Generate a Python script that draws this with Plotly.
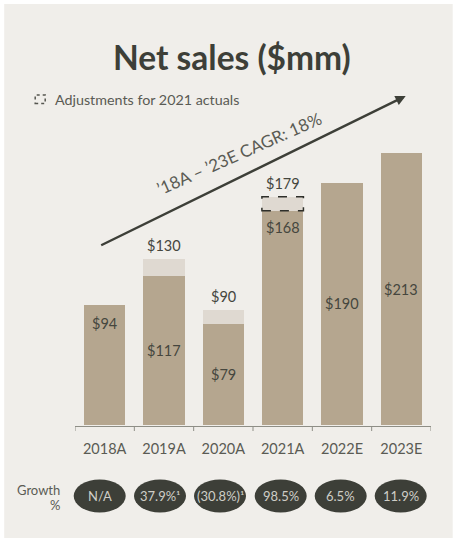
import plotly.graph_objects as go

categories = ["2018A", "2019A", "2020A", "2021A", "2022E", "2023E"]
base_sales = [94, 117, 79, 168, 190, 213]
adjustments = [0, 13, 11, 11, 0, 0]
adjusted_labels = [None, "$130", "$90", "$179", None, None]
growth_labels = ["N/A", "37.9%\u00b9", "(30.8%)\u00b9", "98.5%", "6.5%", "11.9%"]
title_text = "Net sales ($mm)"
legend_text = "Adjustments for 2021 actuals"
cagr_text = "\u201918A \u2013 \u201923E CAGR: 18%"

W, H = 453, 539
L, R, T, B = 75.3, 21.7, 40, 114
FONT = "Lato"
BAR, LIGHT, PANEL, DARK, TEXT = "#B5A68F", "#DFD9D1", "#F0EEEA", "#3D3F38", "#5A5B54"

def px(x): return (x - L) / (W - L - R)
def py(y): return (H - B - y) / (H - T - B)

x_idx = list(range(len(categories)))
fig = go.Figure()
fig.add_bar(x=x_idx, y=base_sales, marker=dict(color=BAR, line_width=0), width=0.7)
fig.add_bar(x=x_idx, y=adjustments, marker=dict(color=LIGHT, line_width=0), width=0.7)

shapes = [dict(type="rect", xref="paper", yref="paper", layer="below", x0=px(4.5), x1=px(453),
               y0=py(538), y1=py(4), fillcolor=PANEL, line_width=0)]
# dashed box around 2021 adjustment
shapes.append(dict(type="rect", xref="x", yref="y", x0=2.65, x1=3.35, y0=base_sales[3],
                   y1=base_sales[3] + adjustments[3], fillcolor="rgba(0,0,0,0)",
                   line=dict(color="#2E2F2A", width=1.5, dash="dash")))
# growth ellipses
growth_x = [100, 160.3, 220.3, 281, 341, 401]
anns = []
for cx, g in zip(growth_x, growth_labels):
    shapes.append(dict(type="circle", xref="paper", yref="paper", x0=px(cx - 26), x1=px(cx + 26),
                       y0=py(512.5), y1=py(479.5), fillcolor=DARK, line_width=0))
    anns.append(dict(xref="paper", yref="paper", x=px(cx), y=py(496), text=g, showarrow=False,
                     font=dict(family=FONT, size=13, color="#CFCEC7"), xanchor="center", yanchor="middle"))

# in-bar labels: offset below the bar top, in pixels
inner_offset = [18, 75, 50, 17, 121, 136]
for i, (v, off) in enumerate(zip(base_sales, inner_offset)):
    anns.append(dict(x=i, y=v, yshift=-off, text=f"${v}", showarrow=False, yanchor="middle",
                     font=dict(family=FONT, size=14.5, color="#45463E")))
for i, (v, a, t) in enumerate(zip(base_sales, adjustments, adjusted_labels)):
    if t:
        anns.append(dict(x=i, y=v + a, yshift=13.5, text=t, showarrow=False, yanchor="middle",
                         font=dict(family=FONT, size=14.5, color="#45463E")))

anns += [
    dict(xref="paper", yref="paper", x=px(232.5), y=py(57), text=f"<b>{title_text}</b>", showarrow=False,
         font=dict(family=FONT, size=33.5, color=DARK, weight=900), xanchor="center", yanchor="middle"),
    dict(xref="paper", yref="paper", x=px(53.5), y=py(99), text=legend_text, showarrow=False,
         font=dict(family=FONT, size=14.3, color=TEXT), xanchor="left", yanchor="middle"),
    dict(xref="paper", yref="paper", x=px(239), y=py(153), text=cagr_text, showarrow=False, textangle=-24,
         font=dict(family=FONT, size=17, color=TEXT), xanchor="center", yanchor="middle"),
    dict(xref="paper", yref="paper", x=px(62), y=py(490), text="Growth", showarrow=False,
         font=dict(family=FONT, size=13, color=TEXT), xanchor="right", yanchor="middle"),
    dict(xref="paper", yref="paper", x=px(62), y=py(505), text="%", showarrow=False,
         font=dict(family=FONT, size=13, color=TEXT), xanchor="right", yanchor="middle"),
    dict(xref="paper", yref="paper", axref="pixel", ayref="pixel", x=px(406), y=py(96),
         ax=100 - 406, ay=246 - 96, text="", showarrow=True, arrowhead=2, arrowsize=0.85, arrowwidth=2.4,
         arrowcolor=DARK),
]

# legend icon
shapes.append(dict(type="rect", xref="paper", yref="paper", x0=px(35.5), x1=px(45.5), y0=py(103.5), y1=py(95),
                   fillcolor="rgba(0,0,0,0)", line=dict(color="#55564F", width=1.5, dash="dot")))

fig.update_layout(
    width=W, height=H, margin=dict(l=L, r=R, t=T, b=B, pad=0), barmode="stack", bargap=0.3,
    paper_bgcolor="white", plot_bgcolor="rgba(0,0,0,0)", showlegend=False,
    shapes=shapes, annotations=anns, font=dict(family=FONT),
    xaxis=dict(range=[-0.5, 5.5], tickmode="array", tickvals=x_idx, ticktext=categories, ticks="",
               showgrid=False, zeroline=False, showline=False,
               tickfont=dict(family=FONT, size=14.5, color=TEXT), ticklabelstandoff=13, fixedrange=True),
    yaxis=dict(range=[0, 302], visible=False, fixedrange=True),
)
# axis bracket: baseline and ticks
fig.add_shape(type="line", xref="paper", yref="paper", x0=0, x1=1, y0=py(426.5), y1=py(426.5),
              line=dict(color="#8E8E86", width=1))
for k in range(len(categories) + 1):
    fig.add_shape(type="line", xref="x", yref="paper", x0=k - 0.5, x1=k - 0.5, y0=py(426.5), y1=py(431),
                  line=dict(color="#8E8E86", width=1))

fig.write_html("out.html", post_script="document.body.style.margin='0';document.body.style.overflow='hidden';",
               config={"displayModeBar": False})
